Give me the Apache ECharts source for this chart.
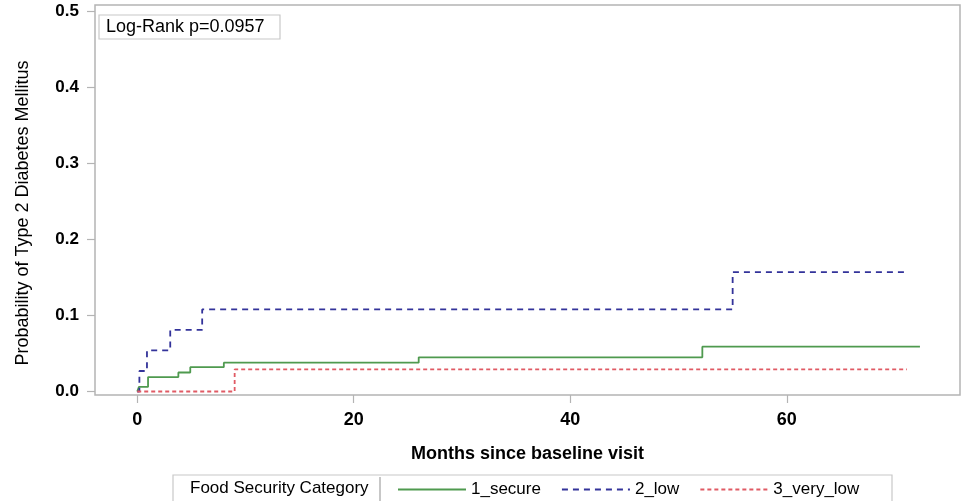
<!DOCTYPE html>
<html>
<head>
<meta charset="utf-8">
<script src="https://cdn.jsdelivr.net/npm/echarts@6/dist/echarts.min.js"></script>
<style>
html,body{margin:0;padding:0;background:#fff;}
#c{width:965px;height:501px;}
</style>
</head>
<body>
<div id="c"></div>
<script>
// Kaplan-Meier cumulative incidence (months, probability)
const months_secure = [0, 0.15, 1.0, 3.8, 4.9, 8.0, 26.0, 52.2, 72.3];
const prob_secure   = [0, 0.006, 0.019, 0.025, 0.032, 0.038, 0.045, 0.059, 0.059];
const months_low    = [0, 0.2, 0.9, 3.05, 6.0, 55.0, 71.0];
const prob_low      = [0, 0.027, 0.054, 0.081, 0.108, 0.157, 0.157];
const months_very_low = [0, 9.0, 71.1];
const prob_very_low   = [0, 0.029, 0.029];

const seriesNames = ['1_secure', '2_low', '3_very_low'];
const xTicks = [0, 20, 40, 60];
const yTicks = [0, 0.1, 0.2, 0.3, 0.4, 0.5];

const FONT = "'Liberation Sans', Arial, Helvetica, sans-serif";
const pair = (xs, ys) => xs.map((x, i) => [x, ys[i]]);

const chart = echarts.init(document.getElementById('c'), null, {renderer: 'canvas'});
const gridLeft = 95, gridRight = 5, gridTop = 5, gridBottom = 106;

const option = {
  backgroundColor: '#fff',
  animation: false,
  grid: {left: gridLeft, right: gridRight, top: gridTop, bottom: gridBottom, show: true,
         borderColor: '#b4b4b4', borderWidth: 1.5, backgroundColor: 'transparent'},
  xAxis: {
    type: 'value', min: -3.9, max: 76,
    axisLine: {show: false, onZero: false},
    splitLine: {show: false},
    axisTick: {show: true, length: 8, customValues: xTicks, lineStyle: {color: '#b4b4b4', width: 1.2}},
    axisLabel: {customValues: xTicks, margin: 16, color: '#000', fontWeight: 'bold', fontSize: 18, fontFamily: FONT},
    name: 'Months since baseline visit', nameLocation: 'middle', nameGap: 50,
    nameTextStyle: {color: '#000', fontWeight: 'bold', fontSize: 18, fontFamily: FONT}
  },
  yAxis: {
    type: 'value', min: -0.0046, max: 0.5086,
    axisLine: {show: false, onZero: false},
    splitLine: {show: false},
    axisTick: {show: true, length: 8, customValues: yTicks, lineStyle: {color: '#b4b4b4', width: 1.2}},
    axisLabel: {customValues: yTicks, margin: 16, color: '#000', fontWeight: 'bold', fontSize: 17, fontFamily: FONT,
                formatter: v => v.toFixed(1)}
  },
  legend: {
    data: seriesNames,
    left: 397, top: 481, padding: 0,
    itemWidth: 68, itemHeight: 14, itemGap: 20,
    textStyle: {color: '#000', fontSize: 17, fontFamily: FONT},
    itemStyle: {opacity: 0, color: 'rgba(0,0,0,0)', borderWidth: 0},
    inactiveColor: '#ccc'
  },
  graphic: [
    {type: 'rect', shape: {x: 99, y: 15, width: 181, height: 24},
     style: {fill: '#fff', stroke: '#c8c8c8', lineWidth: 1.2}, z: 10},
    {type: 'text', x: 106, y: 27.5, z: 11,
     style: {text: 'Log-Rank p=0.0957', font: "18px " + FONT, fill: '#000', verticalAlign: 'middle'}},
    {type: 'text', x: 23, y: 213, rotation: Math.PI / 2, z: 11,
     style: {text: 'Probability of Type 2 Diabetes Mellitus', font: "18px " + FONT, fill: '#000',
             align: 'center', verticalAlign: 'middle'}},
    {type: 'rect', shape: {x: 173, y: 475, width: 719, height: 27},
     style: {fill: 'transparent', stroke: '#c8c8c8', lineWidth: 1.2}, z: 1},
    {type: 'text', x: 190, y: 488.5, z: 11,
     style: {text: 'Food Security Category', font: "17px " + FONT, fill: '#000', verticalAlign: 'middle'}},
    {type: 'line', shape: {x1: 380, y1: 477, x2: 380, y2: 501},
     style: {stroke: '#b4b4b4', lineWidth: 1.5}, z: 11}
  ],
  series: [
    {name: seriesNames[0], type: 'line', step: 'end', symbol: 'none',
     data: pair(months_secure, prob_secure),
     lineStyle: {color: '#4f9a4f', width: 1.8, type: 'solid'}, itemStyle: {color: '#4f9a4f'}},
    {name: seriesNames[1], type: 'line', step: 'end', symbol: 'none',
     data: pair(months_low, prob_low),
     lineStyle: {color: '#33339a', width: 1.8, type: [6, 5]}, itemStyle: {color: '#33339a'}},
    {name: seriesNames[2], type: 'line', step: 'end', symbol: 'none',
     data: pair(months_very_low, prob_very_low),
     lineStyle: {color: '#e05a64', width: 1.8, type: [4, 3]}, itemStyle: {color: '#e05a64'}}
  ]
};
chart.setOption(option);
</script>
</body>
</html>
